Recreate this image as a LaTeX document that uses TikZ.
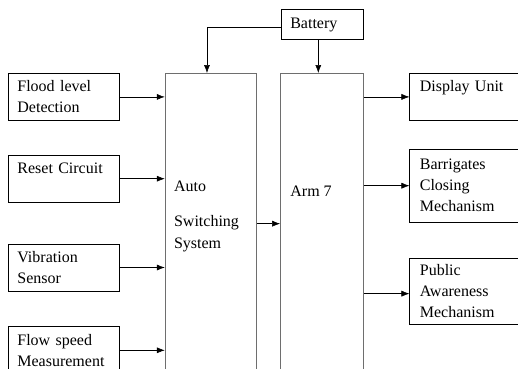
\documentclass[tikz,border=0pt]{standalone}
\usepackage{fontspec}
\setmainfont{Liberation Serif}
\usetikzlibrary{arrows.meta, positioning}
\definecolor{edgeGray}{RGB}{110,110,110}

\begin{document}
\begin{tikzpicture}[
    x=0.75pt, y=-0.75pt,
    box2/.style={rectangle, draw, line width=0.6pt, minimum width=83.25pt, minimum height=35.25pt, text width=69.75pt, inner xsep=6.75pt, align=left, font=\fontsize{12}{15.75}\selectfont},
    tallbox/.style={rectangle, draw=edgeGray, line width=1pt, minimum height=225pt, inner sep=0pt},
    lbl/.style={anchor=north west, inner sep=0pt, align=left, font=\fontsize{12}{16.5}\selectfont},
    >={Latex[length=6pt,width=4.5pt]}
]
\useasboundingbox (0,0) rectangle (518,368);

% inputs
\node[box2, anchor=north west] (flood) at (8,73) {Flood level\\Detection};
\node[box2, below=25.5pt of flood] (reset) {Reset Circuit\\\mbox{}};
\node[box2, below=30.75pt of reset] (vib) {Vibration\\Sensor};
\node[box2, below=26.25pt of vib] (flow) {Flow speed\\Measurement};

% controller blocks
\node[tallbox, minimum width=68.25pt, right=33.75pt of flood.north east, anchor=north west] (auto) {};
\node[tallbox, minimum width=62.25pt, right=17.25pt of auto] (arm) {};
\node[lbl] (autotxt) at ([xshift=6.75pt, yshift=-81pt]auto.north west) {Auto\\[9.75pt]Switching\\System};
\node[lbl] (armtxt) at ([xshift=7.5pt, yshift=-84.75pt]arm.north west) {Arm 7};
\node[box2, minimum width=61.5pt, minimum height=22.5pt, text width=48pt, above=24.75pt of arm.north] (bat) {Battery};

% outputs
\node[box2, inner xsep=7.5pt, text width=68.25pt, right=33.75pt of arm.north east, anchor=north west] (disp) {Display Unit\\\mbox{}};
\node[box2, inner xsep=7.5pt, text width=68.25pt, minimum height=54.75pt, below=21pt of disp] (barr) {Barrigates\\Closing\\Mechanism};
\node[box2, inner xsep=7.5pt, text width=68.25pt, minimum height=49.5pt, below=26.25pt of barr] (pub) {Public\\Awareness\\Mechanism};

\draw[->] (flood.east) -- (flood.east -| auto.west);
\draw[->] (reset.east) -- (reset.east -| auto.west);
\draw[->] (vib.east) -- (vib.east -| auto.west);
\draw[->] (flow.east) -- (flow.east -| auto.west);
\draw[->] (auto) -- (arm);
\draw[->] (disp.west -| arm.east) -- (disp.west);
\draw[->] (barr.west -| arm.east) -- (barr.west);
\draw[->] ([yshift=-2pt]pub.west -| arm.east) -- ([yshift=-2pt]pub.west);
\draw[->] ([xshift=-3pt]bat.south) -- ([xshift=-3pt]bat.south |- arm.north);
\draw[->] ([yshift=-2pt]bat.west) -| ([xshift=-3pt]auto.north);
\end{tikzpicture}
\end{document}
